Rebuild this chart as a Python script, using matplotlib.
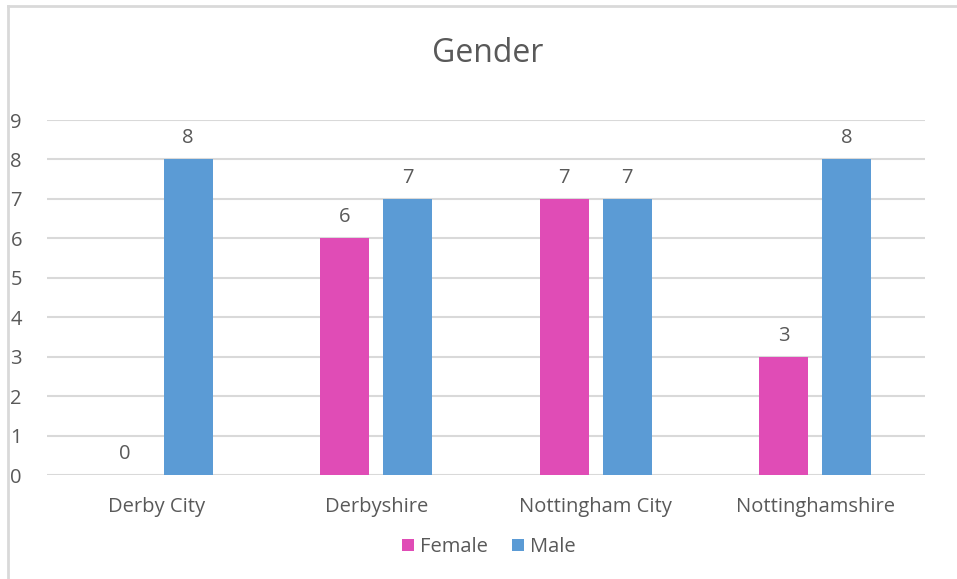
import numpy as np
import matplotlib.pyplot as plt
from matplotlib.lines import Line2D

categories = ["Derby City", "Derbyshire", "Nottingham City", "Nottinghamshire"]
female = [0, 6, 7, 3]
male = [8, 7, 7, 8]
yticks = list(range(0, 10))

FEMALE_COL = "#E04CB6"
MALE_COL = "#5B9BD5"
TXT = "#595959"
GRID = "#D9D9D9"

plt.rcParams['font.family'] = ['Open Sans', 'DejaVu Sans']

fig = plt.figure(figsize=(9.57, 5.79), dpi=100)
ax = fig.add_axes([0.0491, 0.1796, 0.9175, 0.6131])

x = np.arange(len(categories))
w = 0.223
off = 0.1435
b1 = ax.bar(x - off, female, w, color=FEMALE_COL, label="Female", zorder=3)
b2 = ax.bar(x + off, male, w, color=MALE_COL, label="Male", zorder=3)

for bars in (b1, b2):
    for r in bars:
        h = r.get_height()
        ax.annotate(f"{h:g}", (r.get_x() + r.get_width() / 2, h),
                    xytext=(0, 8), textcoords="offset points",
                    ha="center", va="bottom", fontsize=14.5, color=TXT)

ax.set_xlim(-0.5, len(categories) - 0.5)
ax.set_ylim(0, 9)
ax.set_yticks(yticks)
ax.set_xticks(x)
ax.set_xticklabels(categories)
ax.grid(axis="y", color=GRID, linewidth=1.5, zorder=0)
for s in ax.spines.values():
    s.set_visible(False)
ax.tick_params(axis="both", length=0, labelsize=14.5, labelcolor=TXT)
ax.tick_params(axis="y", pad=18)
ax.tick_params(axis="x", pad=16)

fig.text(0.51, 0.908, "Gender", ha="center", va="center", fontsize=23, color=TXT)

fig.legend(handles=[b1, b2], loc="center", bbox_to_anchor=(0.511, 0.055), ncol=2,
           frameon=False, fontsize=14.5, handlelength=0.6, handleheight=0.6,
           handletextpad=0.3, columnspacing=1.2, labelcolor=TXT)

# chart frame edge visible in the screenshot
fig.add_artist(Line2D([8 / 957, 8 / 957], [0, 1 - 6 / 579], color=GRID, linewidth=2,
                      transform=fig.transFigure))
fig.add_artist(Line2D([8 / 957, 1], [1 - 6 / 579, 1 - 6 / 579], color=GRID, linewidth=2,
                      transform=fig.transFigure))

fig.savefig("out.png", dpi=100)
